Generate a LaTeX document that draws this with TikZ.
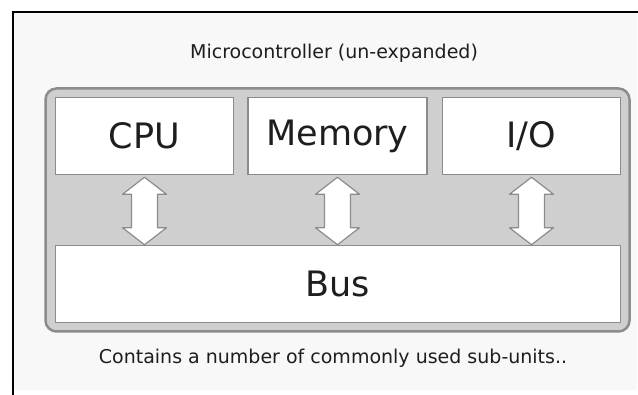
\documentclass[tikz,border=0pt]{standalone}
\usepackage{fontspec}
\setmainfont{DejaVu Sans}
\usepackage{tikz}
\usetikzlibrary{calc}

\definecolor{panelgrey}{HTML}{CFCFCF}
\definecolor{edgegrey}{HTML}{8C8C8C}
\definecolor{pagegrey}{HTML}{F8F8F8}
\definecolor{inkgrey}{HTML}{1E1E1E}

\begin{document}
\begin{tikzpicture}[x=1pt,y=-1pt,
    unit/.style={draw=edgegrey,line width=1.5pt,fill=white,minimum width=178pt,minimum height=77pt,inner sep=0pt,font=\fontsize{35}{38}\selectfont,text=inkgrey},
    link/.style={draw=edgegrey,line width=1.2pt,fill=white,line join=round},
    caption/.style={font=\fontsize{19}{22}\selectfont,text=inkgrey}]
  \useasboundingbox (0,0) rectangle (638,395);
  % page frame
  \fill[pagegrey] (14,13) rectangle (637,390);
  \draw[line width=2pt] (13,395) -- (13,12) -- (638,12);

  \node[caption] (title) at (334,53) {Microcontroller (un-expanded)};
  \node[draw=edgegrey,line width=2.5pt,fill=panelgrey,rounded corners=11pt,minimum width=584pt,minimum height=243pt] (mcu) at (337.5,210) {};

  \node[unit] (cpu) at (144.5,136) {CPU};
  \node[unit,minimum width=179pt] (mem) at (337.5,136) {Memory};
  \node[unit] (io) at (531.5,136) {I/O};
  \node[unit,minimum width=565pt] (bus) at (338,284) {Bus};

  % links to the bus
  \foreach \u in {cpu,mem,io}
    \draw[link] ($(\u.south)+(0,2)$) -- ($(\u.south)+(22,19)$) -- ($(\u.south)+(13,19)$)
      -- ($(\u.south|-bus.north)+(13,-17)$) -- ($(\u.south|-bus.north)+(22,-17)$) -- (\u.south|-bus.north)
      -- ($(\u.south|-bus.north)+(-22,-17)$) -- ($(\u.south|-bus.north)+(-13,-17)$)
      -- ($(\u.south)+(-13,19)$) -- ($(\u.south)+(-22,19)$) -- cycle;

  \node[caption] (note) at (333,358) {Contains a number of commonly used sub-units..};
\end{tikzpicture}
\end{document}
